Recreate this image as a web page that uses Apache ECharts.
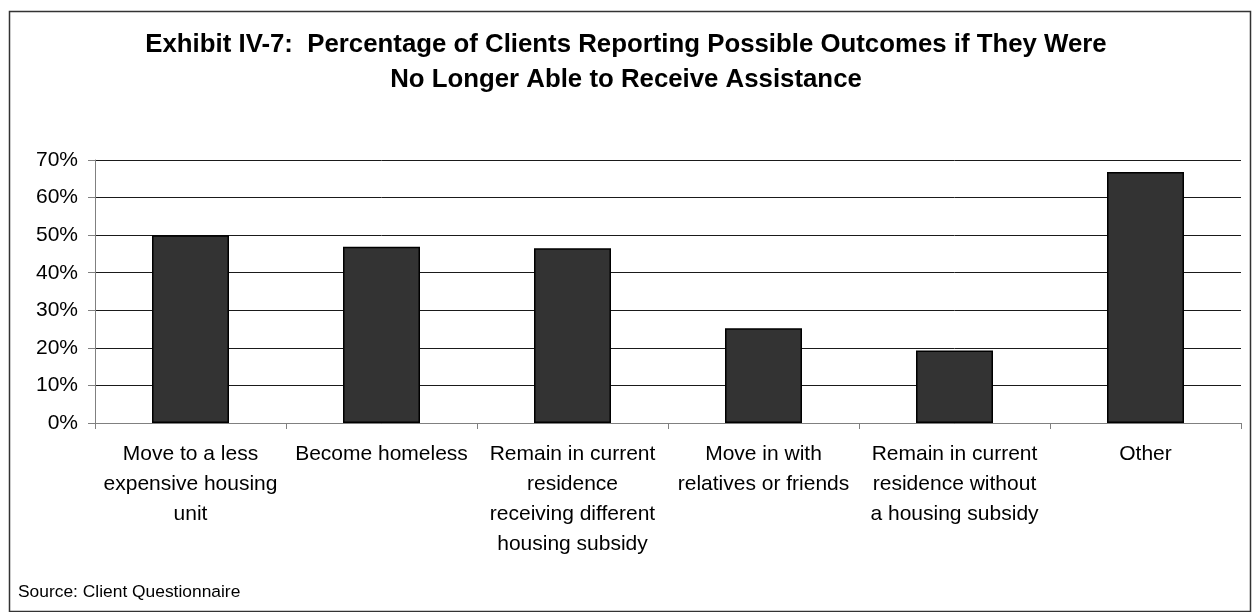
<!DOCTYPE html>
<html>
<head>
<meta charset="utf-8">
<title>Exhibit IV-7</title>
<script src="https://cdn.jsdelivr.net/npm/echarts@6/dist/echarts.min.js"></script>
<style>
  html, body { margin: 0; padding: 0; background: #ffffff; }
  #chart { width: 1252px; height: 612px; }
</style>
</head>
<body>
<div id="chart"></div>
<script>
// Possible outcomes reported by clients (line breaks follow the printed axis labels)
const categories = [
  'Move to a less\nexpensive housing\nunit',
  'Become homeless',
  'Remain in current\nresidence\nreceiving different\nhousing subsidy',
  'Move in with\nrelatives or friends',
  'Remain in current\nresidence without\na housing subsidy',
  'Other'
];
// Share of clients reporting each outcome, in percent
const percentages = [50.0, 46.9, 46.5, 25.2, 19.3, 66.8];
const yTicks = { min: 0, max: 70, interval: 10 };

const titleText = 'Exhibit IV-7:  Percentage of Clients Reporting Possible Outcomes if They Were\nNo Longer Able to Receive Assistance';
const sourceText = 'Source: Client Questionnaire';

const FONT = '"Liberation Sans", Arial, Helvetica, sans-serif';

const chart = echarts.init(document.getElementById('chart'), null, { renderer: 'canvas' });

chart.setOption({
  backgroundColor: '#ffffff',
  animation: false,
  title: {
    text: titleText,
    left: 'center',
    top: 22,
    textStyle: {
      fontFamily: FONT,
      fontSize: 25.8,
      fontWeight: 'bold',
      color: '#000000',
      lineHeight: 35,
      align: 'center'
    }
  },
  grid: {
    left: 95,
    right: 11,
    top: 160,
    bottom: 189,
    containLabel: false
  },
  xAxis: {
    type: 'category',
    data: categories,
    boundaryGap: true,
    axisLine: { show: true, lineStyle: { color: '#808080', width: 1 } },
    axisTick: { show: true, alignWithLabel: false, length: 6, lineStyle: { color: '#808080', width: 1 } },
    axisLabel: {
      interval: 0,
      margin: 16,
      fontFamily: FONT,
      fontSize: 21,
      lineHeight: 30,
      color: '#000000',
      align: 'center'
    },
    splitLine: { show: false }
  },
  yAxis: {
    type: 'value',
    min: yTicks.min,
    max: yTicks.max,
    interval: yTicks.interval,
    axisLine: { show: true, lineStyle: { color: '#808080', width: 1 } },
    axisTick: { show: true, length: 7, lineStyle: { color: '#808080', width: 1 } },
    axisLabel: {
      formatter: '{value}%',
      margin: 17,
      fontFamily: FONT,
      fontSize: 21,
      color: '#000000'
    },
    splitLine: { show: true, lineStyle: { color: '#1a1a1a', width: 1 } }
  },
  series: [{
    type: 'bar',
    data: percentages,
    barWidth: 77,
    itemStyle: {
      color: '#333333',
      borderColor: '#000000',
      borderWidth: 1.5
    },
    label: { show: false },
    z: 3
  }],
  graphic: [
    {
      type: 'rect',
      shape: { x: 9.5, y: 11.5, width: 1241, height: 600 },
      style: { fill: 'none', stroke: '#333333', lineWidth: 1.5 },
      silent: true,
      z: 10
    },
    {
      type: 'text',
      left: 18,
      top: 584,
      style: {
        text: sourceText,
        fontFamily: FONT,
        fontSize: 17.4,
        fill: '#000000'
      },
      silent: true
    }
  ]
});
</script>
</body>
</html>
